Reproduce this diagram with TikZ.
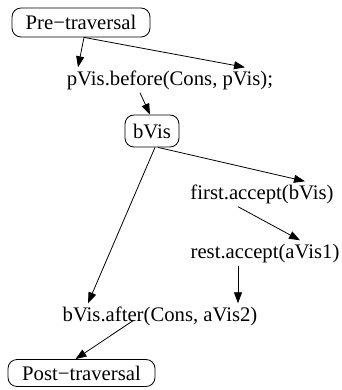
\documentclass[tikz,border=0pt]{standalone}
\usepackage{fontspec}
\setmainfont{Liberation Serif}
\usetikzlibrary{arrows.meta}
\tikzset{
  box/.style={draw, line width=0.8pt, rounded corners=9pt, minimum height=29pt, inner sep=0pt},
  stmt/.style={inner xsep=0pt, inner ysep=3pt, text height=15pt, text depth=4pt},
  flow/.style={line width=0.8pt, -{Triangle[length=11pt,width=8pt]}}
}
\begin{document}
\begin{tikzpicture}[x=1pt,y=-1pt,font=\fontsize{20.7}{24}\selectfont]
  \useasboundingbox (0,0) rectangle (341,390);
  \node[box, minimum width=138pt] (pre) at (81,22.5) {Pre−traversal};
  \node[stmt] (pvis) at (170,80) {pVis.before(Cons, pVis);};
  \node[box, minimum width=54pt, minimum height=32pt] (bvis) at (152,131) {bVis};
  \node[stmt] (first) at (262,194) {first.accept(bVis)};
  \node[stmt] (rest) at (265,253) {rest.accept(aVis1)};
  \node[stmt] (after) at (160,316) {bVis.after(Cons, aVis2)};
  \node[box, minimum width=147pt, minimum height=27pt] (post) at (81.5,373) {Post−traversal};
  % edges
  \draw[flow] ([xshift=3pt]pre.south) -- ([xshift=-92pt]pvis.north);
  \draw[flow] ([xshift=3pt]pre.south) -- ([xshift=75pt]pvis.north);
  \draw[flow] ([xshift=-30pt]pvis.south) -- ([xshift=-2pt]bvis.north);
  \draw[flow] ([xshift=6pt]bvis.south) -- ([xshift=43pt]first.north);
  \draw[flow] ([xshift=3pt]bvis.south) -- ([xshift=-72pt]after.north);
  \draw[flow] ([xshift=-24pt]first.south) -- ([xshift=35pt]rest.north);
  \draw[flow] ([xshift=-27pt]rest.south) -- ([xshift=78pt]after.north);
  \draw[flow] ([xshift=-27pt,yshift=8pt]after.south) -- ([xshift=-6pt]post.north);
\end{tikzpicture}
\end{document}
